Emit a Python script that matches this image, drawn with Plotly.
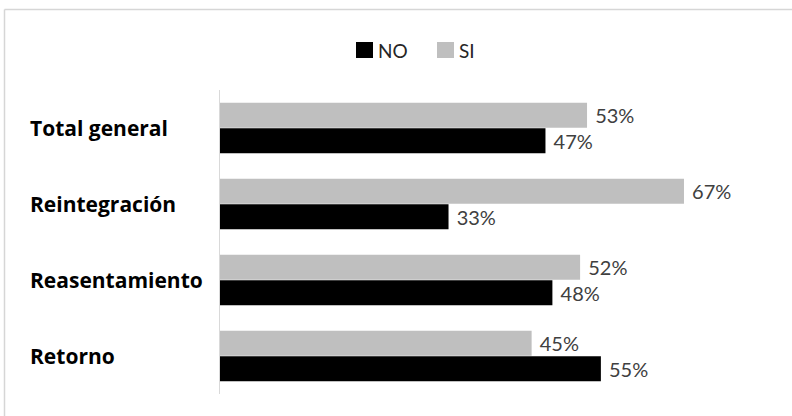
import plotly.graph_objects as go

categories = ["Total general", "Reintegración", "Reasentamiento", "Retorno"]
si_values = [53, 67, 52, 45]
no_values = [47, 33, 48, 55]
series_names = ["NO", "SI"]

W, H = 792, 416
L, R_, T, B = 220, 18, 90, 22
PW = W - L - R_
PH = H - T - B


def px(x):
    return (x - L) / PW


def py(y):
    return (H - B - y) / PH


FONT = "Lato"
SI_COLOR = "#bfbfbf"
NO_COLOR = "#000000"

fig = go.Figure()
fig.add_trace(go.Bar(
    y=categories, x=si_values, name="SI", orientation="h",
    marker=dict(color=SI_COLOR, line=dict(width=0)),
    texttemplate="\u00a0%{x}%", textposition="outside", constraintext="none",
    textfont=dict(family=FONT, size=20, color="#404040"), cliponaxis=False,
    showlegend=False,
))
fig.add_trace(go.Bar(
    y=categories, x=no_values, name="NO", orientation="h",
    marker=dict(color=NO_COLOR, line=dict(width=0)),
    texttemplate="\u00a0%{x}%", textposition="outside", constraintext="none",
    textfont=dict(family=FONT, size=20, color="#404040"), cliponaxis=False,
    showlegend=False,
))

shapes = [
    # outer frame (top and left edges)
    dict(type="line", xref="paper", yref="paper", x0=px(4.5), x1=px(800),
         y0=py(9.5), y1=py(9.5), line=dict(color="#d6d6d6", width=1.5)),
    dict(type="line", xref="paper", yref="paper", x0=px(4.5), x1=px(4.5),
         y0=py(9.5), y1=py(420), line=dict(color="#d6d6d6", width=1.5)),
]

annotations = []
# category labels, left aligned
for c in categories:
    annotations.append(dict(
        x=px(28), xref="paper", y=c, yref="y", text=c, showarrow=False,
        xanchor="left", yanchor="middle",
        font=dict(family="Open Sans", size=21, color="#000000", weight="bold"),
    ))

# manual legend
legend_colors = {"NO": NO_COLOR, "SI": SI_COLOR}
legend_x = {"NO": 356, "SI": 437}
for name in series_names:
    x0 = legend_x[name]
    shapes.append(dict(type="rect", xref="paper", yref="paper",
                       x0=px(x0), x1=px(x0 + 17), y0=py(58), y1=py(42),
                       fillcolor=legend_colors[name], line=dict(width=0)))
    annotations.append(dict(
        x=px(x0 + 20), xref="paper", y=py(50), yref="paper", text=name,
        showarrow=False, xanchor="left", yanchor="middle",
        font=dict(family=FONT, size=19, color="#262626"),
    ))

fig.update_layout(
    width=W, height=H,
    margin=dict(l=L, r=R_, t=T, b=B, pad=0),
    paper_bgcolor="white", plot_bgcolor="white",
    barmode="group", bargap=0.33, bargroupgap=0.02,
    showlegend=False,
    xaxis=dict(visible=False, range=[0, 80]),
    yaxis=dict(autorange="reversed", showticklabels=False, ticks="",
               showgrid=False, zeroline=False, showline=True,
               linecolor="#d9d9d9", linewidth=1),
    shapes=shapes,
    annotations=annotations,
)

fig.write_html("out.html")
